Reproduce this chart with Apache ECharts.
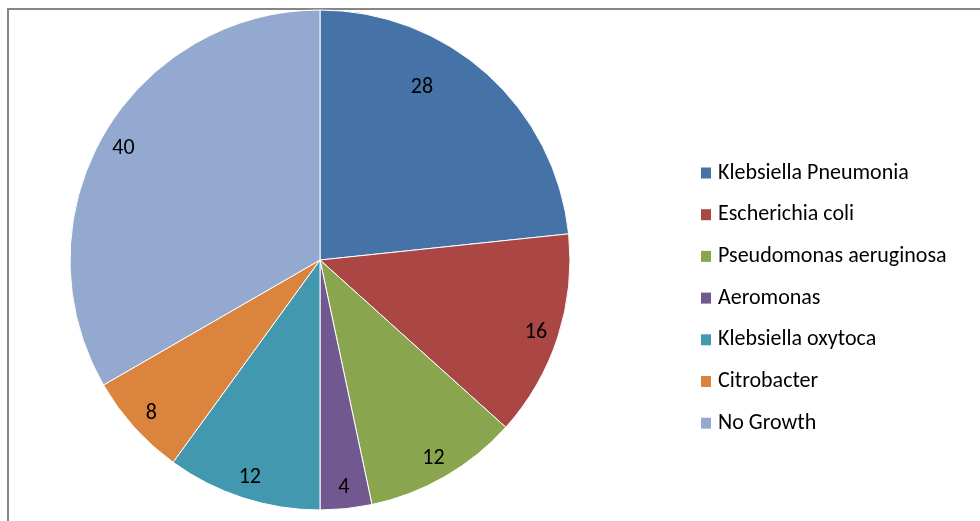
<!DOCTYPE html>
<html><head><meta charset="utf-8">
<script src="https://cdn.jsdelivr.net/npm/echarts@6/dist/echarts.min.js"></script>
<style>html,body{margin:0;padding:0;background:#fff}#c{width:980px;height:521px}</style>
</head><body><div id="c"></div>
<script>
const categories = ['Klebsiella Pneumonia','Escherichia coli','Pseudomonas aeruginosa','Aeromonas','Klebsiella oxytoca','Citrobacter','No Growth'];
const values = [28, 16, 12, 4, 12, 8, 40];
const colors = ['#4572A7','#AA4643','#89A54E','#71588F','#4198AF','#DB843D','#93A9CF'];
const labelOffsets = {0: [-50, -6]};
const FONT = 'Carlito, Calibri, "Liberation Sans", sans-serif';

const chart = echarts.init(document.getElementById('c'));
const baseData = categories.map((n, i) => ({name: n, value: values[i], itemStyle: {color: colors[i]}}));
const labelData = categories.map((n, i) => ({
  name: n, value: values[i],
  label: labelOffsets[i] ? {offset: labelOffsets[i]} : undefined
}));
chart.setOption({
  animation: false,
  graphic: [{type: 'rect', shape: {x: 8, y: 9, width: 1100, height: 700}, style: {fill: 'none', stroke: '#868686', lineWidth: 2}, z: -10}],
  legend: {
    orient: 'vertical', left: 696, top: 157,
    itemWidth: 10, itemHeight: 11, itemGap: 19.7,
    icon: 'rect',
    itemStyle: {borderWidth: 0},
    data: categories,
    textStyle: {fontFamily: FONT, fontSize: 22, color: '#000', padding: [0,0,0,2]}
  },
  series: [{
    type: 'pie', center: [320, 260], radius: [0, 250],
    startAngle: 90, clockwise: true,
    label: {show: false}, labelLine: {show: false},
    itemStyle: {borderColor: '#fff', borderWidth: 1},
    emphasis: {disabled: true},
    data: baseData
  }, {
    type: 'pie', center: [320, 262], radius: [202, 246],
    startAngle: 90, clockwise: true, silent: true,
    itemStyle: {color: 'rgba(0,0,0,0)'},
    label: {show: true, position: 'inside', formatter: '{c}', fontFamily: FONT, fontSize: 22, color: '#000'},
    labelLine: {show: false},
    emphasis: {disabled: true},
    legendHoverLink: false,
    data: labelData
  }]
});
</script></body></html>
